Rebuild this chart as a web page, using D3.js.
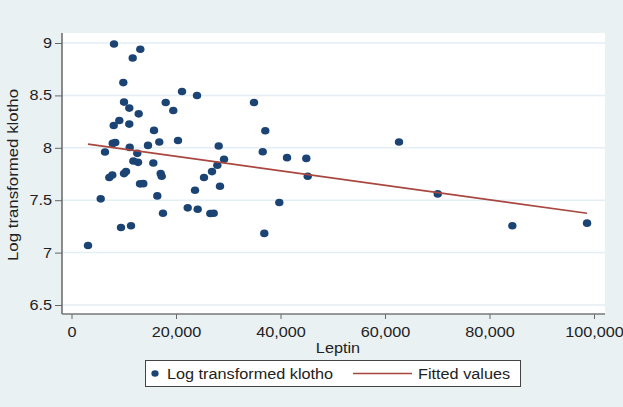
<!DOCTYPE html>
<html>
<head>
<meta charset="utf-8">
<script src="https://cdn.jsdelivr.net/npm/d3@7"></script>
<style>
  body { margin: 0; background: #e9f1f3; }
  text { font-family: "Liberation Sans", Arial, sans-serif; fill: #222; }
</style>
</head>
<body>
<div id="chart"></div>
<script>
var width = 623,
    height = 407;

// leptin vs log transformed klotho
var leptin = [8135, 13170, 11710, 9915, 21150, 24020, 10050, 18030, 11060, 19480,
  12860, 9150, 8080, 11060, 15790, 20380, 16800, 7885, 8380, 14640,
  11140, 28170, 6410, 12590, 29190, 11830, 12730, 15660, 27910, 26890,
  25360, 10050, 10430, 7235, 7810, 17070, 17260, 13110, 13740, 23640,
  28420, 16420, 5590, 17510, 22240, 24150, 26570, 27220, 9475, 11390,
  3160, 34930, 37090, 36600, 41250, 44940, 45210, 39770, 36900, 62680,
  70090, 84370, 98670];
var klotho = [8.99, 8.94, 8.857, 8.622, 8.537, 8.499, 8.436, 8.432, 8.379, 8.356,
  8.324, 8.261, 8.213, 8.226, 8.166, 8.070, 8.055, 8.042, 8.051, 8.023,
  8.004, 8.017, 7.960, 7.947, 7.890, 7.874, 7.861, 7.855, 7.833, 7.773,
  7.716, 7.754, 7.773, 7.716, 7.741, 7.754, 7.728, 7.656, 7.658, 7.595,
  7.633, 7.541, 7.513, 7.376, 7.427, 7.414, 7.373, 7.376, 7.240, 7.256,
  7.068, 8.432, 8.163, 7.963, 7.906, 7.899, 7.728, 7.478, 7.183, 8.055,
  7.560, 7.256, 7.281];

var fitX = [3160, 98670],
    fitY = [8.035, 7.375];

var xTicks = [0, 20000, 40000, 60000, 80000, 100000],
    yTicks = [6.5, 7, 7.5, 8, 8.5, 9];

var legendLabels = ["Log transformed klotho", "Fitted values"];

var dotColour = "#1b4475",
    lineColour = "#a8463f";

var plot = {left: 62, right: 605, top: 33, bottom: 314};

var x = d3.scaleLinear()
  .domain([0, 100000])
  .range([71.5, 594]);

var y = d3.scaleLinear()
  .domain([6.5, 9])
  .range([305, 43]);

var svg = d3.select("#chart").append("svg")
    .attr("width", width)
    .attr("height", height);

svg.append("rect")
    .attr("width", width)
    .attr("height", height)
    .attr("fill", "#e9f1f3");

svg.append("rect")
    .attr("x", plot.left)
    .attr("y", plot.top)
    .attr("width", plot.right - plot.left)
    .attr("height", plot.bottom - plot.top)
    .attr("fill", "#fff");

// gridlines
svg.selectAll(".grid")
  .data(yTicks)
  .enter()
  .append("line")
    .attr("class", "grid")
    .attr("x1", plot.left)
    .attr("x2", plot.right)
    .attr("y1", function(d) { return y(d); })
    .attr("y2", function(d) { return y(d); })
    .attr("stroke", "#e4eef5")
    .attr("stroke-width", 1.5);

var yAxis = svg.append("g")
    .attr("transform", "translate(" + plot.left + ",0)")
    .call(d3.axisLeft(y).tickValues(yTicks).tickSize(7).tickPadding(3)
      .tickFormat(d3.format("")));
yAxis.select(".domain").remove();

var xAxis = svg.append("g")
    .attr("transform", "translate(0," + plot.bottom + ")")
    .call(d3.axisBottom(x).tickValues(xTicks).tickSize(5).tickPadding(8)
      .tickFormat(d3.format(",")));
xAxis.select(".domain").remove();

svg.selectAll(".tick line").attr("stroke", "#666");
svg.selectAll(".tick text").style("font-size", "14px").attr("fill", "#222");

svg.append("line")
    .attr("x1", plot.left).attr("x2", plot.left)
    .attr("y1", plot.top).attr("y2", plot.bottom)
    .attr("stroke", "#666").attr("stroke-width", 1.5);
svg.append("line")
    .attr("x1", plot.left).attr("x2", plot.right)
    .attr("y1", plot.bottom).attr("y2", plot.bottom)
    .attr("stroke", "#777").attr("stroke-width", 1.5);

// points (slightly wider than tall, like the source)
svg.selectAll(".dot")
  .data(leptin)
  .enter()
  .append("ellipse")
    .attr("class", "dot")
    .attr("cx", function(d) { return x(d); })
    .attr("cy", function(d, i) { return y(klotho[i]); })
    .attr("rx", 4.2)
    .attr("ry", 3.8)
    .attr("fill", dotColour);

// fitted line
var line = d3.line()
  .x(function(d) { return x(d); })
  .y(function(d, i) { return y(fitY[i]); });

svg.append("path")
    .datum(fitX)
    .attr("d", line)
    .attr("fill", "none")
    .attr("stroke", lineColour)
    .attr("stroke-width", 1.6);

// axis titles
svg.append("text")
    .attr("x", 338)
    .attr("y", 353)
    .attr("text-anchor", "middle")
    .style("font-size", "14px")
    .text("Leptin");

svg.append("text")
    .attr("transform", "translate(18,175) rotate(-90)")
    .attr("text-anchor", "middle")
    .style("font-size", "14.5px")
    .text("Log transformed klotho");

// legend
svg.append("rect")
    .attr("x", 145.5).attr("y", 360.5)
    .attr("width", 375).attr("height", 26)
    .attr("fill", "#fff")
    .attr("stroke", "#444");

svg.append("ellipse")
    .attr("cx", 155).attr("cy", 373.5)
    .attr("rx", 3.6).attr("ry", 3.3)
    .attr("fill", dotColour);

svg.append("line")
    .attr("x1", 353).attr("x2", 412)
    .attr("y1", 373.5).attr("y2", 373.5)
    .attr("stroke", lineColour)
    .attr("stroke-width", 1.6);

svg.selectAll(".legtext")
  .data(legendLabels)
  .enter()
  .append("text")
    .attr("class", "legtext")
    .attr("x", function(d, i) { return i ? 418 : 167; })
    .attr("y", 378.5)
    .style("font-size", "14px")
    .text(function(d) { return d; });

// the source font runs wider than Liberation Sans, stretch the glyphs
svg.selectAll("text").each(function() {
  var len = this.getComputedTextLength();
  d3.select(this)
    .attr("textLength", len * 1.16)
    .attr("lengthAdjust", "spacingAndGlyphs");
});
</script>
</body>
</html>
